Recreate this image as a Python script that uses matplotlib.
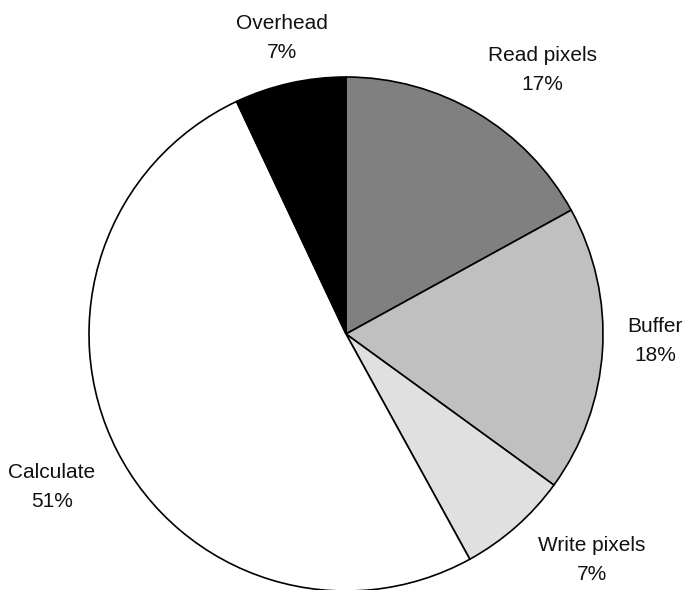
import matplotlib.pyplot as plt

plt.rcParams['font.family'] = ['Liberation Sans', 'DejaVu Sans']

# share of time per stage
stages = ['Read pixels', 'Buffer', 'Write pixels', 'Calculate', 'Overhead']
shares = [17, 18, 7, 51, 7]
fills = ['#808080', '#c0c0c0', '#e0e0e0', '#ffffff', '#000000']

# label centres in pixel space (top-left origin)
label_pos = [(542, 70), (655, 341), (592, 560), (52, 487), (282, 38)]

W, H = 689, 590
fig = plt.figure(figsize=(W / 100, H / 100), dpi=100)
ax = fig.add_axes([0, 0, 1, 1])

ax.pie(shares, colors=fills, startangle=90, counterclock=False,
       center=(346, H - 334), radius=257, frame=True,
       wedgeprops=dict(edgecolor='black', linewidth=1.2))

for name, val, (px, py) in zip(stages, shares, label_pos):
    ax.text(px, H - py, f'{name}\n{val}%', ha='center', va='center',
            fontsize=15, linespacing=1.7, color='#111111')

ax.set_xlim(0, W)
ax.set_ylim(0, H)
ax.set_aspect('equal')
ax.axis('off')

fig.savefig('out.png', dpi=100)
